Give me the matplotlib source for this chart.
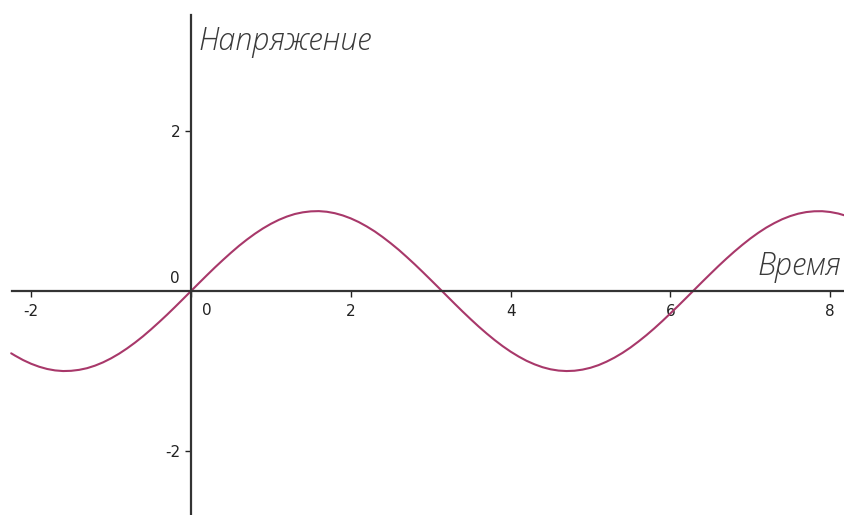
import matplotlib
matplotlib.use('Agg')
import matplotlib.pyplot as plt

# values (time, voltage)
time = [-2.25, -2.2, -2.1, -2.0, -1.9, -1.8, -1.7, -1.6, -1.5, -1.4, -1.3, -1.2,
        -1.1, -1.0, -0.9, -0.8, -0.7, -0.6, -0.5, -0.4, -0.3, -0.2, -0.1,
        0.0, 0.1, 0.2, 0.3, 0.4, 0.5, 0.6, 0.7, 0.8, 0.9, 1.0, 1.1, 1.2, 1.3,
        1.4, 1.5, 1.6, 1.7, 1.8, 1.9, 2.0, 2.1, 2.2, 2.3, 2.4, 2.5, 2.6, 2.7,
        2.8, 2.9, 3.0, 3.1, 3.2, 3.3, 3.4, 3.5, 3.6, 3.7, 3.8, 3.9, 4.0, 4.1,
        4.2, 4.3, 4.4, 4.5, 4.6, 4.7, 4.8, 4.9, 5.0, 5.1, 5.2, 5.3, 5.4, 5.5,
        5.6, 5.7, 5.8, 5.9, 6.0, 6.1, 6.2, 6.3, 6.4, 6.5, 6.6, 6.7, 6.8, 6.9,
        7.0, 7.1, 7.2, 7.3, 7.4, 7.5, 7.6, 7.7, 7.8, 7.9, 8.0, 8.1, 8.2]
voltage = [-0.778, -0.808, -0.863, -0.909, -0.946, -0.974, -0.992, -1.000, -0.997,
           -0.985, -0.964, -0.932, -0.891, -0.841, -0.783, -0.717, -0.644, -0.565,
           -0.479, -0.389, -0.296, -0.199, -0.100,
           0.000, 0.100, 0.199, 0.296, 0.389, 0.479, 0.565, 0.644, 0.717, 0.783,
           0.841, 0.891, 0.932, 0.964, 0.985, 0.997, 1.000, 0.992, 0.974, 0.946,
           0.909, 0.863, 0.808, 0.746, 0.675, 0.598, 0.516, 0.427, 0.335, 0.239,
           0.141, 0.042, -0.058, -0.158, -0.256, -0.351, -0.443, -0.530, -0.612,
           -0.688, -0.757, -0.818, -0.872, -0.916, -0.952, -0.978, -0.994, -1.000,
           -0.996, -0.982, -0.959, -0.926, -0.883, -0.832, -0.773, -0.706, -0.631,
           -0.551, -0.465, -0.374, -0.279, -0.182, -0.083, 0.017, 0.117, 0.215,
           0.312, 0.405, 0.494, 0.578, 0.657, 0.729, 0.794, 0.850, 0.899, 0.938,
           0.968, 0.988, 0.998, 0.999, 0.989, 0.970, 0.941]

x_ticks = [-2, 0, 2, 4, 6, 8]
x_labels = ['-2', '', '2', '4', '6', '8']
y_ticks = [-2, 2]
y_labels = ['-2', '2']

axis_col = '#333333'
label_font = dict(family='Open Sans', style='italic', weight='light',
                  size=22, color='#3a3a3a')

fig = plt.figure(figsize=(8.45, 5.15), dpi=100)
ax = fig.add_axes([0, 0, 1, 1])

ax.plot(time, voltage, color='#a8386a', lw=1.5, solid_capstyle='round')

ax.set_xlim(-2.39, 8.185)
ax.set_ylim(-2.8, 3.64)

for s in ['top', 'right']:
    ax.spines[s].set_visible(False)
ax.spines['left'].set_position(('data', 0))
ax.spines['bottom'].set_position(('data', 0))
for s in ['left', 'bottom']:
    ax.spines[s].set_color(axis_col)
    ax.spines[s].set_linewidth(1.6)
ax.spines['left'].set_bounds(-2.8, 3.45)
ax.spines['bottom'].set_bounds(-2.24, 8.185)

ax.set_xticks(x_ticks)
ax.set_xticklabels(x_labels)
ax.set_yticks(y_ticks)
ax.set_yticklabels(y_labels)
ax.tick_params(axis='x', direction='out', length=4, width=1, pad=5,
               labelsize=11, colors='#222222')
ax.tick_params(axis='y', direction='out', length=4.3, width=1, pad=3.6,
               labelsize=11, colors='#222222')

# zero labels at the origin
ax.annotate('0', (0, 0), xytext=(-8, 3.6), textcoords='offset points',
            ha='right', va='bottom', fontsize=11, color='#222222')
ax.annotate('0', (0, 0), xytext=(8, -8.6), textcoords='offset points',
            ha='left', va='top', fontsize=11, color='#222222')

ax.text(0.09, 3.01, 'Напряжение', ha='left', va='baseline', **label_font)
ax.text(8.14, 0.2, 'Время', ha='right', va='baseline', **label_font)

fig.savefig('out.png', dpi=100, facecolor='white')
